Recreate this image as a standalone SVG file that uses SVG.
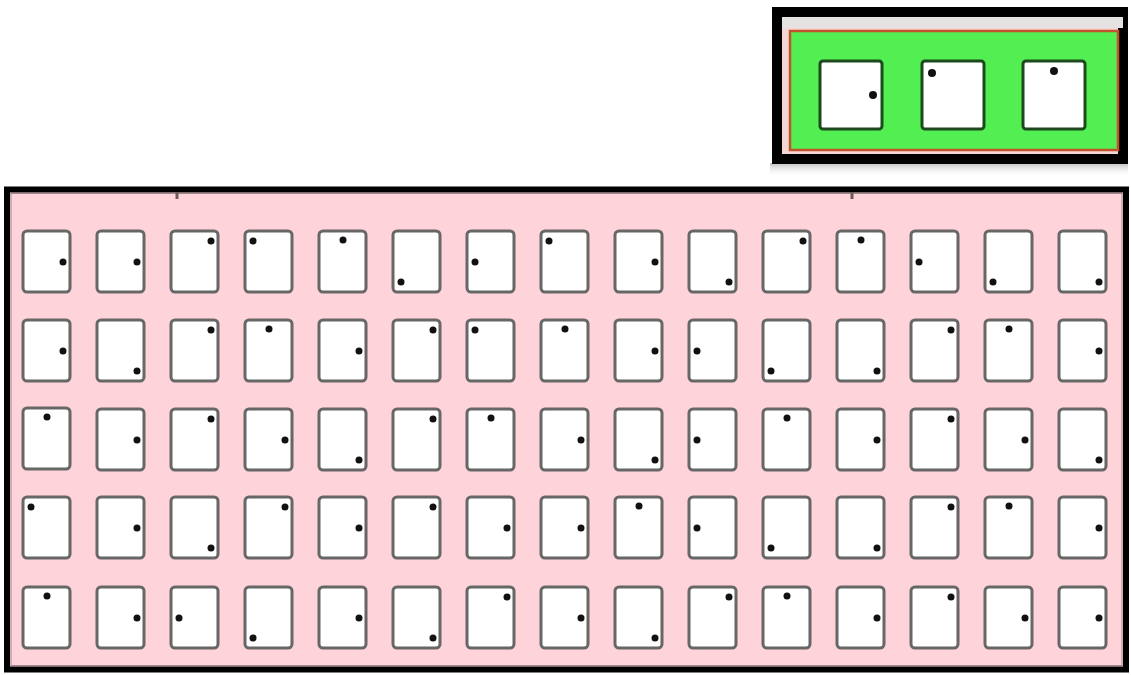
<svg xmlns="http://www.w3.org/2000/svg" width="1131" height="675" viewBox="0 0 1131 675">
<style>
.c{fill:#ffffff;stroke:#676767;stroke-width:3}
.g{fill:#ffffff;stroke:#1d4a1d;stroke-width:3}
.d{fill:#111111}
</style>
<defs>
<linearGradient id="sh" x1="0" y1="0" x2="0" y2="1">
<stop offset="0" stop-color="#bdbdbd"/>
<stop offset="1" stop-color="#ffffff" stop-opacity="0"/>
</linearGradient>
</defs>
<rect width="1131" height="675" fill="#ffffff"/>
<!-- top box -->
<g id="topbox">
<rect x="770" y="163" width="358" height="14" fill="url(#sh)"/>
<rect x="777" y="12" width="346" height="147" fill="#f4d6d6" stroke="#000000" stroke-width="10"/>
<rect x="782" y="17" width="341" height="11" fill="#e6e2e2"/>
<rect x="790" y="31" width="328" height="119" fill="#52ee52" stroke="#c2532c" stroke-width="2.5"/>
</g>
<g id="t1"><rect class="g" x="820" y="61" width="62" height="68" rx="3"/><circle class="d" cx="873" cy="95" r="4"/></g>
<g id="t2"><rect class="g" x="922" y="61" width="62" height="68" rx="3"/><circle class="d" cx="932" cy="73" r="4"/></g>
<g id="t3"><rect class="g" x="1023" y="61" width="62" height="68" rx="3"/><circle class="d" cx="1054" cy="71" r="4"/></g>
<!-- main frame -->
<g id="frame">
<rect x="7" y="189.5" width="1119" height="480" fill="#ffd3da" stroke="#000000" stroke-width="6"/>
<rect x="11" y="193.5" width="1111" height="472" fill="none" stroke="#9a8a8c" stroke-width="1"/>
<rect x="175.5" y="192" width="3" height="7" fill="#6a5a5c"/>
<rect x="850.5" y="192" width="3" height="7" fill="#6a5a5c"/>
</g>
<g id="connectors"/>
<!-- row 1 -->
<g id="r1c1" transform="translate(23,231)"><rect class="c" width="47" height="61" rx="4"/><circle class="d" cx="40" cy="31" r="3.5"/></g>
<g id="r1c2" transform="translate(97,231)"><rect class="c" width="47" height="61" rx="4"/><circle class="d" cx="40" cy="31" r="3.5"/></g>
<g id="r1c3" transform="translate(171,231)"><rect class="c" width="47" height="61" rx="4"/><circle class="d" cx="40" cy="10" r="3.5"/></g>
<g id="r1c4" transform="translate(245,231)"><rect class="c" width="47" height="61" rx="4"/><circle class="d" cx="8" cy="10" r="3.5"/></g>
<g id="r1c5" transform="translate(319,231)"><rect class="c" width="47" height="61" rx="4"/><circle class="d" cx="24" cy="9" r="3.5"/></g>
<g id="r1c6" transform="translate(393,231)"><rect class="c" width="47" height="61" rx="4"/><circle class="d" cx="8" cy="51" r="3.5"/></g>
<g id="r1c7" transform="translate(467,231)"><rect class="c" width="47" height="61" rx="4"/><circle class="d" cx="8" cy="31" r="3.5"/></g>
<g id="r1c8" transform="translate(541,231)"><rect class="c" width="47" height="61" rx="4"/><circle class="d" cx="8" cy="10" r="3.5"/></g>
<g id="r1c9" transform="translate(615,231)"><rect class="c" width="47" height="61" rx="4"/><circle class="d" cx="40" cy="31" r="3.5"/></g>
<g id="r1c10" transform="translate(689,231)"><rect class="c" width="47" height="61" rx="4"/><circle class="d" cx="40" cy="51" r="3.5"/></g>
<g id="r1c11" transform="translate(763,231)"><rect class="c" width="47" height="61" rx="4"/><circle class="d" cx="40" cy="10" r="3.5"/></g>
<g id="r1c12" transform="translate(837,231)"><rect class="c" width="47" height="61" rx="4"/><circle class="d" cx="24" cy="9" r="3.5"/></g>
<g id="r1c13" transform="translate(911,231)"><rect class="c" width="47" height="61" rx="4"/><circle class="d" cx="8" cy="31" r="3.5"/></g>
<g id="r1c14" transform="translate(985,231)"><rect class="c" width="47" height="61" rx="4"/><circle class="d" cx="8" cy="51" r="3.5"/></g>
<g id="r1c15" transform="translate(1059,231)"><rect class="c" width="47" height="61" rx="4"/><circle class="d" cx="40" cy="51" r="3.5"/></g>
<!-- row 2 -->
<g id="r2c1" transform="translate(23,320)"><rect class="c" width="47" height="61" rx="4"/><circle class="d" cx="40" cy="31" r="3.5"/></g>
<g id="r2c2" transform="translate(97,320)"><rect class="c" width="47" height="61" rx="4"/><circle class="d" cx="40" cy="51" r="3.5"/></g>
<g id="r2c3" transform="translate(171,320)"><rect class="c" width="47" height="61" rx="4"/><circle class="d" cx="40" cy="10" r="3.5"/></g>
<g id="r2c4" transform="translate(245,320)"><rect class="c" width="47" height="61" rx="4"/><circle class="d" cx="24" cy="9" r="3.5"/></g>
<g id="r2c5" transform="translate(319,320)"><rect class="c" width="47" height="61" rx="4"/><circle class="d" cx="40" cy="31" r="3.5"/></g>
<g id="r2c6" transform="translate(393,320)"><rect class="c" width="47" height="61" rx="4"/><circle class="d" cx="40" cy="10" r="3.5"/></g>
<g id="r2c7" transform="translate(467,320)"><rect class="c" width="47" height="61" rx="4"/><circle class="d" cx="8" cy="10" r="3.5"/></g>
<g id="r2c8" transform="translate(541,320)"><rect class="c" width="47" height="61" rx="4"/><circle class="d" cx="24" cy="9" r="3.5"/></g>
<g id="r2c9" transform="translate(615,320)"><rect class="c" width="47" height="61" rx="4"/><circle class="d" cx="40" cy="31" r="3.5"/></g>
<g id="r2c10" transform="translate(689,320)"><rect class="c" width="47" height="61" rx="4"/><circle class="d" cx="8" cy="31" r="3.5"/></g>
<g id="r2c11" transform="translate(763,320)"><rect class="c" width="47" height="61" rx="4"/><circle class="d" cx="8" cy="51" r="3.5"/></g>
<g id="r2c12" transform="translate(837,320)"><rect class="c" width="47" height="61" rx="4"/><circle class="d" cx="40" cy="51" r="3.5"/></g>
<g id="r2c13" transform="translate(911,320)"><rect class="c" width="47" height="61" rx="4"/><circle class="d" cx="40" cy="10" r="3.5"/></g>
<g id="r2c14" transform="translate(985,320)"><rect class="c" width="47" height="61" rx="4"/><circle class="d" cx="24" cy="9" r="3.5"/></g>
<g id="r2c15" transform="translate(1059,320)"><rect class="c" width="47" height="61" rx="4"/><circle class="d" cx="40" cy="31" r="3.5"/></g>
<!-- row 3 -->
<g id="r3c1" transform="translate(23,408)"><rect class="c" width="47" height="61" rx="4"/><circle class="d" cx="24" cy="9" r="3.5"/></g>
<g id="r3c2" transform="translate(97,409)"><rect class="c" width="47" height="61" rx="4"/><circle class="d" cx="40" cy="31" r="3.5"/></g>
<g id="r3c3" transform="translate(171,409)"><rect class="c" width="47" height="61" rx="4"/><circle class="d" cx="40" cy="10" r="3.5"/></g>
<g id="r3c4" transform="translate(245,409)"><rect class="c" width="47" height="61" rx="4"/><circle class="d" cx="40" cy="31" r="3.5"/></g>
<g id="r3c5" transform="translate(319,409)"><rect class="c" width="47" height="61" rx="4"/><circle class="d" cx="40" cy="51" r="3.5"/></g>
<g id="r3c6" transform="translate(393,409)"><rect class="c" width="47" height="61" rx="4"/><circle class="d" cx="40" cy="10" r="3.5"/></g>
<g id="r3c7" transform="translate(467,409)"><rect class="c" width="47" height="61" rx="4"/><circle class="d" cx="24" cy="9" r="3.5"/></g>
<g id="r3c8" transform="translate(541,409)"><rect class="c" width="47" height="61" rx="4"/><circle class="d" cx="40" cy="31" r="3.5"/></g>
<g id="r3c9" transform="translate(615,409)"><rect class="c" width="47" height="61" rx="4"/><circle class="d" cx="40" cy="51" r="3.5"/></g>
<g id="r3c10" transform="translate(689,409)"><rect class="c" width="47" height="61" rx="4"/><circle class="d" cx="8" cy="31" r="3.5"/></g>
<g id="r3c11" transform="translate(763,409)"><rect class="c" width="47" height="61" rx="4"/><circle class="d" cx="24" cy="9" r="3.5"/></g>
<g id="r3c12" transform="translate(837,409)"><rect class="c" width="47" height="61" rx="4"/><circle class="d" cx="40" cy="31" r="3.5"/></g>
<g id="r3c13" transform="translate(911,409)"><rect class="c" width="47" height="61" rx="4"/><circle class="d" cx="40" cy="10" r="3.5"/></g>
<g id="r3c14" transform="translate(985,409)"><rect class="c" width="47" height="61" rx="4"/><circle class="d" cx="40" cy="31" r="3.5"/></g>
<g id="r3c15" transform="translate(1059,409)"><rect class="c" width="47" height="61" rx="4"/><circle class="d" cx="40" cy="51" r="3.5"/></g>
<!-- row 4 -->
<g id="r4c1" transform="translate(23,497)"><rect class="c" width="47" height="61" rx="4"/><circle class="d" cx="8" cy="10" r="3.5"/></g>
<g id="r4c2" transform="translate(97,497)"><rect class="c" width="47" height="61" rx="4"/><circle class="d" cx="40" cy="31" r="3.5"/></g>
<g id="r4c3" transform="translate(171,497)"><rect class="c" width="47" height="61" rx="4"/><circle class="d" cx="40" cy="51" r="3.5"/></g>
<g id="r4c4" transform="translate(245,497)"><rect class="c" width="47" height="61" rx="4"/><circle class="d" cx="40" cy="10" r="3.5"/></g>
<g id="r4c5" transform="translate(319,497)"><rect class="c" width="47" height="61" rx="4"/><circle class="d" cx="40" cy="31" r="3.5"/></g>
<g id="r4c6" transform="translate(393,497)"><rect class="c" width="47" height="61" rx="4"/><circle class="d" cx="40" cy="10" r="3.5"/></g>
<g id="r4c7" transform="translate(467,497)"><rect class="c" width="47" height="61" rx="4"/><circle class="d" cx="40" cy="31" r="3.5"/></g>
<g id="r4c8" transform="translate(541,497)"><rect class="c" width="47" height="61" rx="4"/><circle class="d" cx="40" cy="31" r="3.5"/></g>
<g id="r4c9" transform="translate(615,497)"><rect class="c" width="47" height="61" rx="4"/><circle class="d" cx="24" cy="9" r="3.5"/></g>
<g id="r4c10" transform="translate(689,497)"><rect class="c" width="47" height="61" rx="4"/><circle class="d" cx="8" cy="31" r="3.5"/></g>
<g id="r4c11" transform="translate(763,497)"><rect class="c" width="47" height="61" rx="4"/><circle class="d" cx="8" cy="51" r="3.5"/></g>
<g id="r4c12" transform="translate(837,497)"><rect class="c" width="47" height="61" rx="4"/><circle class="d" cx="40" cy="51" r="3.5"/></g>
<g id="r4c13" transform="translate(911,497)"><rect class="c" width="47" height="61" rx="4"/><circle class="d" cx="40" cy="10" r="3.5"/></g>
<g id="r4c14" transform="translate(985,497)"><rect class="c" width="47" height="61" rx="4"/><circle class="d" cx="24" cy="9" r="3.5"/></g>
<g id="r4c15" transform="translate(1059,497)"><rect class="c" width="47" height="61" rx="4"/><circle class="d" cx="40" cy="31" r="3.5"/></g>
<!-- row 5 -->
<g id="r5c1" transform="translate(23,587)"><rect class="c" width="47" height="61" rx="4"/><circle class="d" cx="24" cy="9" r="3.5"/></g>
<g id="r5c2" transform="translate(97,587)"><rect class="c" width="47" height="61" rx="4"/><circle class="d" cx="40" cy="31" r="3.5"/></g>
<g id="r5c3" transform="translate(171,587)"><rect class="c" width="47" height="61" rx="4"/><circle class="d" cx="8" cy="31" r="3.5"/></g>
<g id="r5c4" transform="translate(245,587)"><rect class="c" width="47" height="61" rx="4"/><circle class="d" cx="8" cy="51" r="3.5"/></g>
<g id="r5c5" transform="translate(319,587)"><rect class="c" width="47" height="61" rx="4"/><circle class="d" cx="40" cy="31" r="3.5"/></g>
<g id="r5c6" transform="translate(393,587)"><rect class="c" width="47" height="61" rx="4"/><circle class="d" cx="40" cy="51" r="3.5"/></g>
<g id="r5c7" transform="translate(467,587)"><rect class="c" width="47" height="61" rx="4"/><circle class="d" cx="40" cy="10" r="3.5"/></g>
<g id="r5c8" transform="translate(541,587)"><rect class="c" width="47" height="61" rx="4"/><circle class="d" cx="40" cy="31" r="3.5"/></g>
<g id="r5c9" transform="translate(615,587)"><rect class="c" width="47" height="61" rx="4"/><circle class="d" cx="40" cy="51" r="3.5"/></g>
<g id="r5c10" transform="translate(689,587)"><rect class="c" width="47" height="61" rx="4"/><circle class="d" cx="40" cy="10" r="3.5"/></g>
<g id="r5c11" transform="translate(763,587)"><rect class="c" width="47" height="61" rx="4"/><circle class="d" cx="24" cy="9" r="3.5"/></g>
<g id="r5c12" transform="translate(837,587)"><rect class="c" width="47" height="61" rx="4"/><circle class="d" cx="40" cy="31" r="3.5"/></g>
<g id="r5c13" transform="translate(911,587)"><rect class="c" width="47" height="61" rx="4"/><circle class="d" cx="40" cy="10" r="3.5"/></g>
<g id="r5c14" transform="translate(985,587)"><rect class="c" width="47" height="61" rx="4"/><circle class="d" cx="40" cy="31" r="3.5"/></g>
<g id="r5c15" transform="translate(1059,587)"><rect class="c" width="47" height="61" rx="4"/><circle class="d" cx="40" cy="31" r="3.5"/></g>
</svg>
